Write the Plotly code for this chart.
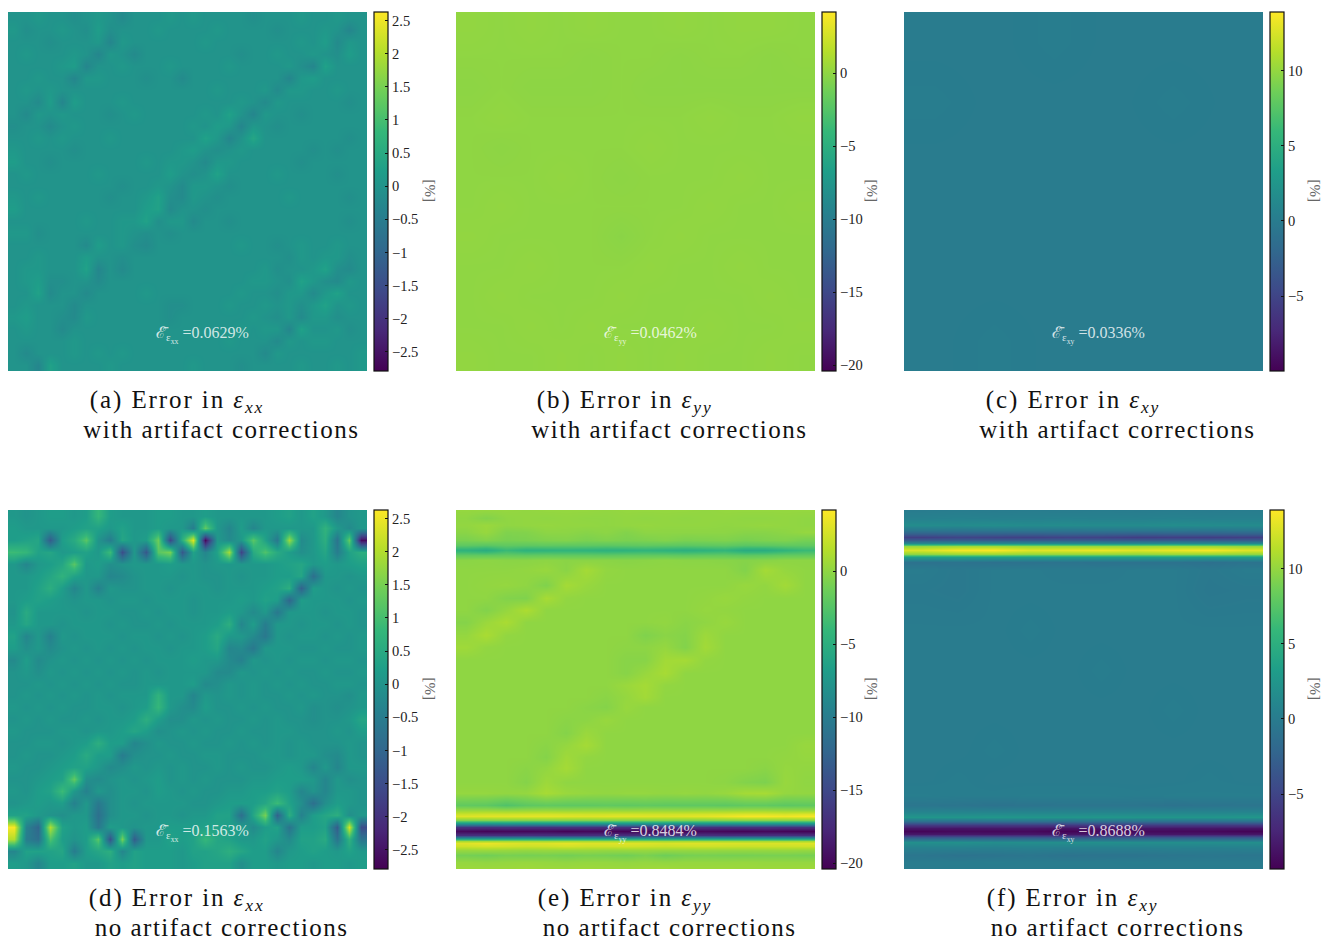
import plotly.graph_objects as go

# ---------- tick labels ----------
XX_TICKS = [2.5, 2, 1.5, 1, 0.5, 0, -0.5, -1, -1.5, -2, -2.5]
XX_LABELS = ["2.5", "2", "1.5", "1", "0.5", "0", "\u22120.5", "\u22121", "\u22121.5", "\u22122", "\u22122.5"]
YY_TICKS = [0, -5, -10, -15, -20]
YY_LABELS = ["0", "\u22125", "\u221210", "\u221215", "\u221220"]
XY_TICKS = [10, 5, 0, -5]
XY_LABELS = ["10", "5", "0", "\u22125"]
XX_RANGE = [-2.79, 2.63]
YY_RANGE = [-20.4, 4.18]
XY_RANGE = [-9.98, 13.9]
MEANS = ["0.0629%", "0.0462%", "0.0336%", "0.1563%", "0.8484%", "0.8688%"]

# ---------- panel (a), tenths of a percent, 30 x 30 ----------
A_TENTHS = [
[0,0,1,0,0,-1,0,1,0,-2,0,0,0,1,0,1,0,0,0,0,-1,0,0,0,1,0,0,1,0,0],
[1,-1,0,0,1,0,-1,2,-1,0,0,0,1,0,0,0,0,1,0,0,0,0,-1,0,0,0,1,0,-3,0],
[0,0,0,-1,0,0,0,1,-3,1,0,0,0,0,0,0,1,0,0,0,0,0,0,0,1,0,2,-2,1,0],
[0,1,0,0,0,1,0,-3,1,0,-2,0,0,0,0,0,0,0,0,-1,0,0,1,0,0,1,0,-1,2,0],
[0,0,0,0,1,2,-3,0,0,1,0,0,0,1,0,0,0,0,1,0,0,0,0,1,-1,-3,3,0,0,0],
[0,0,1,0,0,-3,1,1,0,0,0,-1,0,0,-2,0,0,0,0,0,0,0,0,-3,1,2,0,0,0,0],
[0,1,0,1,0,0,0,0,0,0,0,0,0,0,0,0,0,1,0,0,0,1,-2,1,1,0,0,1,0,0],
[0,0,-2,2,-3,2,0,0,0,1,0,0,0,0,0,0,0,0,0,1,0,-2,1,0,0,0,0,0,-1,0],
[0,-2,1,0,1,0,0,0,-1,0,1,0,0,0,0,0,1,0,3,0,-3,1,0,0,-1,0,0,0,0,0],
[-1,0,0,-2,0,1,0,0,0,0,0,0,0,0,0,1,0,2,1,-3,1,0,-1,0,0,0,0,0,0,0],
[0,0,1,0,1,0,0,0,1,0,0,0,0,0,0,0,3,1,-3,0,4,0,0,0,0,0,0,0,-1,0],
[1,0,0,0,0,-1,0,0,0,0,0,0,0,0,1,2,0,-1,0,1,0,0,0,0,0,-1,0,-1,0,0],
[2,0,0,-1,0,0,0,0,0,0,0,1,0,1,1,0,-2,1,1,0,0,0,0,0,-1,0,0,0,0,0],
[0,1,0,0,0,0,0,1,0,0,0,0,0,2,0,-1,0,3,0,0,0,0,1,0,0,0,0,-1,0,0],
[0,0,0,0,0,0,0,0,0,-1,0,0,1,0,-2,1,1,0,-1,0,0,0,0,0,0,0,0,0,0,0],
[1,0,1,0,0,0,0,0,-1,0,0,1,3,-1,-2,1,0,-1,0,0,0,0,0,1,0,0,0,0,-1,0],
[2,0,0,0,0,0,0,0,0,0,0,2,3,-2,0,0,-1,0,0,0,0,0,0,0,0,0,0,0,0,0],
[0,0,0,0,0,0,1,0,0,1,1,3,-1,1,1,-2,0,0,-1,0,0,0,0,0,0,0,0,0,-1,0],
[1,1,-1,0,0,0,0,0,0,1,0,-1,0,-1,0,0,0,0,0,0,0,0,0,0,0,0,0,0,0,0],
[0,0,0,0,0,0,-2,2,0,1,-1,-2,0,0,0,0,0,0,0,1,0,0,-1,0,1,0,0,1,0,0],
[0,0,1,0,0,0,2,0,0,-1,0,0,0,0,0,0,0,0,0,0,0,0,0,-1,1,0,1,1,-1,0],
[0,1,1,0,0,0,3,-3,0,-2,0,0,0,0,0,0,0,0,0,0,0,1,-1,0,0,1,3,-1,-2,0],
[0,1,2,-1,-1,0,0,-2,0,0,0,0,0,0,0,0,0,0,0,0,1,1,0,-1,3,1,-1,-2,1,0],
[0,0,3,-2,0,0,-2,0,0,0,0,1,0,0,0,0,0,0,0,1,0,0,-1,1,1,-2,1,3,0,0],
[0,1,0,0,0,-2,0,0,0,0,0,0,0,-1,-1,0,0,0,1,0,0,1,0,1,-1,1,3,0,1,0],
[1,2,0,0,-1,-2,1,0,0,0,0,0,0,-1,0,0,0,0,0,0,1,0,-1,1,-2,1,1,-1,0,0],
[0,1,0,0,-2,0,0,0,0,0,0,0,0,0,0,0,0,0,0,1,0,1,1,-3,3,0,0,1,-1,0],
[0,0,0,0,0,1,0,0,0,0,0,0,0,0,0,0,0,0,1,0,0,0,-2,1,0,1,1,0,0,0],
[0,-2,0,0,0,1,0,1,0,1,0,0,0,0,0,0,0,0,0,0,0,-2,1,0,0,0,0,0,0,1],
[0,0,-3,3,0,0,0,0,1,0,0,0,0,0,0,1,0,0,0,-1,0,0,0,0,1,0,0,1,0,1],
]

# ---------- panel (d), tenths of a percent, 30 x 30 ----------
D_TENTHS = [
[1,0,1,2,2,1,2,8,2,1,1,1,2,2,1,1,2,1,1,1,1,1,2,3,1,3,1,-3,0,1],
[2,1,1,1,1,2,3,3,1,3,1,1,2,1,1,-5,13,1,-3,2,-3,1,1,1,1,1,7,1,-2,1],
[2,3,4,-12,2,5,12,0,-5,4,1,2,14,-16,6,24,-27,1,-2,1,12,3,-6,18,-2,1,6,-7,13,-26],
[9,8,3,4,1,2,3,1,9,-15,1,-13,12,15,-13,3,-3,3,19,-17,5,11,5,2,-1,1,4,-5,3,6],
[1,-3,1,2,4,12,1,2,-1,0,1,1,1,2,1,1,0,1,1,1,1,1,2,3,4,1,2,1,2,3],
[1,1,2,4,7,3,1,1,-3,-2,0,1,1,1,0,1,0,0,1,0,1,1,2,2,4,-8,1,1,0,1],
[1,1,3,6,2,-3,1,-4,1,0,0,1,1,0,1,1,1,0,1,1,1,2,3,6,-11,2,1,0,1,0],
[1,2,3,2,1,0,1,1,0,1,1,0,1,1,1,0,1,1,1,2,1,3,2,-10,2,1,1,1,0,1],
[0,5,1,1,1,1,0,1,1,0,0,1,0,1,1,0,1,1,2,1,-2,1,-6,1,1,1,0,1,1,0],
[1,4,1,1,0,1,1,1,0,1,0,0,1,0,1,1,1,2,6,-3,2,-5,1,1,0,1,1,0,1,0],
[3,-3,1,-4,1,0,1,1,1,0,1,1,0,1,0,1,2,5,1,1,-2,-6,1,0,1,1,0,1,0,1],
[2,-1,1,-2,0,1,0,1,0,1,0,1,1,0,1,1,2,4,-3,-2,-6,1,1,1,0,0,1,0,0,1],
[-2,2,-2,0,1,0,1,0,1,0,1,0,1,1,1,2,1,1,-2,-4,1,0,1,0,1,1,0,1,1,0],
[0,1,-1,1,0,1,0,1,0,1,0,1,0,1,1,1,1,-2,-2,1,0,1,0,1,0,0,1,0,0,1],
[0,0,1,0,1,0,1,0,1,0,0,1,1,1,1,2,-2,-1,1,0,1,0,1,0,1,0,0,1,1,0],
[0,1,0,1,0,1,0,1,0,1,1,1,7,1,1,-3,1,0,1,0,1,0,0,1,0,1,0,0,-1,1],
[1,0,1,0,1,0,0,1,1,0,1,2,8,1,-1,-2,2,0,0,1,0,1,0,0,1,-1,0,-1,0,1],
[0,1,0,1,0,0,1,0,1,1,2,6,2,-1,-1,1,0,1,0,0,1,0,1,0,0,-1,0,0,1,4],
[1,0,0,0,1,1,0,1,1,2,4,2,-1,0,1,0,1,0,0,1,0,0,1,1,0,0,0,1,0,2],
[0,0,1,1,0,1,2,6,2,2,-3,-1,1,0,0,1,0,0,1,0,1,0,1,0,1,0,0,0,1,0],
[0,1,0,0,1,2,5,2,2,-5,-1,0,0,1,0,0,1,1,0,0,0,1,1,0,1,1,-1,-2,1,0],
[1,0,0,1,2,3,3,1,-2,-1,1,0,1,0,1,0,0,1,0,1,0,0,1,2,1,-3,1,-3,1,1],
[0,0,1,2,3,13,-1,-2,0,1,0,1,2,0,1,0,1,0,0,0,1,1,2,2,2,1,-3,1,-1,0],
[1,0,2,3,9,1,-4,1,-1,1,1,0,2,1,0,1,0,0,1,1,2,2,3,2,-3,0,-3,1,1,0],
[0,1,2,1,2,-4,1,-6,-1,1,0,1,1,1,1,0,0,1,2,2,2,4,9,3,-1,-8,-1,2,1,0],
[3,3,1,0,-1,1,1,-8,-1,1,1,0,1,1,0,1,1,3,3,-8,4,15,-11,6,-4,2,4,6,-1,1],
[26,-4,-10,20,3,1,2,-6,2,1,0,1,1,2,2,2,3,3,2,2,-2,2,3,-7,2,2,3,-12,23,-15],
[20,-5,-8,11,2,0,2,12,-14,15,-12,1,1,3,2,3,8,4,3,1,1,3,1,-2,3,3,5,-7,7,-7],
[-3,3,3,3,4,-5,2,4,6,-3,3,2,2,2,1,3,3,4,6,4,2,2,-3,1,2,3,2,1,3,1],
[2,1,-3,2,2,3,1,1,3,2,3,2,2,2,1,2,3,3,3,-1,2,2,1,2,2,1,2,2,1,2],
]

# ---------- panel (b), percent, 12 x 12 ----------
B_VALUES = [
[0.1,0.0,0.1,0.0,0.1,0.0,0.0,0.1,0.0,0.1,0.1,0.0],
[0.0,0.0,0.0,0.0,-0.1,0.0,0.0,-0.1,0.0,0.0,-0.1,0.0],
[-0.1,0.0,-0.1,-0.1,-0.1,0.0,-0.1,-0.1,-0.1,-0.1,-0.1,-0.1],
[0.0,0.1,0.0,0.0,0.0,0.0,0.0,0.0,0.1,0.0,0.0,0.1],
[0.0,-0.1,0.0,0.0,0.0,0.0,0.1,0.0,0.0,0.0,0.0,0.0],
[0.0,0.0,0.0,0.1,0.0,-0.1,0.0,0.0,0.0,0.1,0.0,0.0],
[0.0,0.1,0.0,0.0,0.0,0.0,0.0,0.0,0.1,0.0,0.0,0.1],
[0.1,0.0,0.0,0.0,0.0,-0.2,0.0,0.1,0.0,0.0,0.0,0.0],
[0.0,0.0,0.1,0.0,0.0,0.0,0.1,0.0,0.0,0.1,0.0,0.0],
[0.0,0.1,0.0,0.0,0.0,0.1,0.0,0.0,0.0,0.0,0.1,0.0],
[0.0,0.0,0.1,0.0,0.1,0.0,0.0,0.0,0.1,0.0,0.0,0.1],
[0.1,0.0,0.0,0.1,0.0,0.1,0.0,0.1,0.0,0.0,0.1,0.0],
]

# ---------- panel (c), percent, 6 x 6 ----------
C_VALUES = [
[0.0,0.0,0.1,0.0,0.0,0.0],
[0.1,0.0,0.0,0.0,0.1,0.0],
[0.0,0.0,0.0,0.0,0.0,0.0],
[0.0,0.0,0.0,0.0,0.0,0.0],
[0.0,0.0,0.0,0.0,0.0,0.0],
[0.0,0.1,0.0,0.0,0.0,0.0],
]

# ---------- panel (e), percent: rows at E_ROWS, 18 columns ----------
E_ROWS = [0,8,15,22,30,35,40,45,50,60,75,88,100,112,125,137,150,163,175,187,197,210,223,235,247,258,272,283,295,300,304,306,310,314,317,321,325,328,331,333,336,340,345,352,359]
E_VALUES = [
[0.2,0.2,0.2,0.1,0.2,0.2,0.2,0.1,0.2,0.2,0.2,0.2,0.1,0.2,0.2,0.2,0.2,0.2],
[0.0,-0.5,0.0,0.1,0.0,0.1,0.0,0.0,0.1,0.0,0.1,0.0,0.1,0.1,0.0,0.0,0.1,0.0],
[0.1,0.4,0.0,0.1,0.2,0.1,0.1,0.0,0.1,0.2,0.1,0.1,0.1,0.0,0.1,0.2,0.1,0.0],
[-0.2,0.3,-0.6,-0.5,-0.1,-0.1,-0.3,-0.1,-0.5,-0.1,-0.1,-0.1,-0.1,-0.1,-0.3,-0.3,-0.1,0.2],
[-0.8,-0.5,-0.9,-0.8,-0.6,-0.5,-0.8,-0.6,-0.8,-0.7,-0.5,-0.8,-0.7,-0.6,-0.9,-0.7,-0.6,-1.0],
[-2.0,-2.2,-1.9,-2.0,-1.9,-2.0,-2.0,-2.1,-2.0,-1.9,-2.0,-2.1,-2.0,-1.9,-2.2,-2.1,-1.9,-1.9],
[-4.6,-5.2,-3.8,-4.6,-4.5,-4.4,-4.5,-4.7,-4.6,-4.4,-4.6,-4.9,-4.6,-4.3,-5.3,-5.2,-4.4,-3.8],
[-1.9,-1.9,-1.8,-1.9,-1.8,-1.9,-1.9,-2.0,-1.9,-1.9,-1.9,-2.0,-1.9,-1.9,-2.1,-2.0,-1.8,-1.8],
[-0.2,-0.1,-0.2,-0.2,-0.1,-0.2,-0.2,-0.2,-0.3,-0.2,-0.1,-0.2,-0.2,-0.3,-0.4,-0.3,-0.1,-0.1],
[0.0,0.0,0.0,0.1,0.3,-0.2,0.8,0.1,0.0,0.0,0.0,0.0,0.0,0.0,-0.5,0.8,0.2,0.0],
[0.0,0.1,0.2,0.0,-0.6,0.8,0.3,0.0,0.0,0.0,0.0,0.0,0.0,0.0,0.3,0.1,0.7,0.0],
[0.0,0.0,-0.5,-0.6,0.9,0.1,0.0,0.0,0.0,0.0,0.0,0.0,0.1,0.3,0.1,0.0,0.0,0.0],
[0.0,-0.5,0.2,1.1,0.0,0.0,0.0,0.0,0.0,0.0,0.0,0.0,0.2,0.1,0.0,0.0,0.0,0.0],
[-0.4,0.4,1.0,0.0,0.0,0.0,0.0,0.0,0.0,0.0,0.1,-0.2,0.0,0.3,0.0,0.0,0.0,0.0],
[0.2,1.0,0.1,0.0,0.0,0.0,0.0,0.0,0.0,-0.6,-0.2,-0.4,0.5,0.0,0.0,0.0,0.0,0.0],
[0.6,0.1,0.0,0.0,0.0,0.0,0.0,0.0,-0.1,-0.1,0.2,-0.5,0.7,0.0,0.0,0.0,0.0,0.0],
[0.0,0.0,0.0,0.0,0.0,0.0,0.0,0.0,-0.3,-0.3,0.7,0.8,0.1,0.0,0.0,0.0,0.0,0.0],
[0.0,0.0,0.0,0.0,0.0,0.0,0.0,0.0,-0.3,0.3,0.9,0.0,0.0,0.0,0.0,0.0,0.0,0.0],
[0.0,0.0,0.0,0.0,0.0,0.0,0.0,0.0,0.4,0.8,0.1,0.0,0.0,0.0,0.0,0.0,0.0,0.0],
[0.0,0.0,0.0,0.0,0.0,0.0,0.0,-0.2,0.2,0.7,0.0,0.0,0.0,0.0,0.0,0.0,0.0,0.0],
[0.0,0.0,0.0,0.0,0.0,0.0,-0.2,-0.4,0.3,0.0,0.0,0.0,0.0,0.0,0.0,0.0,0.0,0.0],
[0.0,0.0,0.0,0.0,0.0,-0.2,-0.1,0.3,0.0,0.0,0.0,0.0,0.0,0.0,0.0,0.0,0.0,0.0],
[0.0,0.0,0.0,0.0,0.0,-0.4,0.4,0.0,0.0,0.0,0.0,0.0,0.0,0.0,0.0,0.0,0.0,0.0],
[0.0,0.0,0.0,0.0,-0.2,0.2,0.8,0.0,0.0,0.0,0.0,0.0,0.0,0.0,0.0,0.0,0.0,0.3],
[0.0,0.0,0.0,0.0,-0.4,0.6,0.1,0.0,0.0,0.0,0.0,0.0,0.0,0.0,0.0,0.0,0.1,0.2],
[0.0,0.0,0.0,-0.2,0.1,0.8,0.0,0.0,0.0,0.0,0.0,0.0,0.0,0.0,0.0,-0.2,0.2,0.1],
[0.0,0.0,0.0,-0.4,0.5,0.0,0.0,0.0,0.0,0.0,0.0,0.0,0.0,-0.1,-0.5,-0.7,0.3,0.0],
[0.2,0.2,0.1,0.2,0.9,0.4,0.2,0.1,0.2,0.2,0.1,0.2,0.1,0.3,0.8,0.9,0.2,0.1],
[-1.9,-2.0,-2.7,-2.1,-1.9,-2.0,-2.0,-1.9,-2.0,-1.9,-2.0,-2.0,-2.0,-2.1,-1.9,-1.9,-2.1,-2.0],
[0.3,0.3,0.1,0.2,0.3,0.2,0.3,0.3,0.2,0.3,0.3,0.2,0.3,0.3,0.4,0.4,0.3,0.2],
[2.3,2.5,2.5,2.6,2.7,2.6,2.5,2.5,2.6,2.5,2.5,2.6,2.7,2.8,3.0,3.0,2.8,3.1],
[3.0,3.1,3.1,3.2,3.2,3.1,3.0,3.1,3.1,3.1,3.0,3.1,3.2,3.5,3.9,3.9,3.7,3.9],
[-0.5,-0.5,-0.4,-0.5,-0.4,-0.5,-0.5,-0.4,-0.5,-0.5,-0.4,-0.5,-0.5,-0.4,-0.3,-0.3,-0.3,-0.3],
[-9.0,-9.2,-9.0,-9.1,-9.0,-9.0,-9.1,-9.0,-9.0,-9.1,-9.0,-9.1,-9.0,-9.2,-9.1,-9.0,-9.1,-9.0],
[-16.8,-17.0,-16.8,-16.9,-17.0,-16.8,-16.9,-17.0,-16.8,-16.9,-17.0,-16.8,-16.9,-17.0,-16.9,-16.8,-17.0,-16.9],
[-19.8,-20.1,-19.9,-20.0,-19.8,-20.2,-19.9,-20.0,-20.2,-19.9,-20.0,-20.1,-19.8,-20.0,-20.2,-19.9,-20.1,-20.2],
[-17.0,-16.9,-17.1,-16.8,-17.0,-16.9,-17.0,-16.8,-17.1,-16.9,-17.0,-16.8,-17.0,-17.1,-16.9,-17.0,-16.8,-17.1],
[-8.0,-8.1,-8.0,-8.0,-8.1,-8.0,-8.0,-8.1,-8.0,-8.0,-8.1,-8.0,-8.0,-8.1,-8.0,-8.0,-8.1,-8.0],
[1.0,0.9,1.0,1.0,0.9,1.0,1.0,1.0,0.9,1.0,0.9,1.0,1.0,1.0,0.9,1.0,0.9,1.0],
[3.0,3.5,3.1,2.9,3.0,3.3,3.0,3.0,3.1,3.0,2.8,3.0,3.0,2.9,2.9,2.8,2.9,3.0],
[2.4,2.6,2.5,2.3,2.4,2.6,2.4,2.4,2.5,2.4,2.2,2.3,2.4,2.3,2.2,2.3,2.3,2.4],
[0.3,0.4,0.3,0.2,0.3,0.3,0.3,0.2,0.3,0.3,0.2,0.2,0.2,0.2,0.2,0.2,0.3,0.2],
[-1.0,-1.2,-0.9,-1.0,-0.9,-1.1,-0.9,-1.0,-1.2,-0.8,-1.3,-1.0,-0.9,-1.0,-1.0,-0.9,-0.9,-1.0],
[0.2,0.1,0.2,0.3,0.2,0.1,0.2,0.2,0.1,0.2,0.1,0.2,0.2,0.2,0.3,0.2,0.2,0.2],
[0.5,0.5,0.5,0.6,0.5,0.5,0.6,0.5,0.5,0.6,0.7,0.5,0.5,0.6,0.5,0.5,0.5,0.6],
]

# ---------- panel (f), percent: rows at F_ROWS, 10 columns ----------
F_ROWS = [0,8,15,20,24,27,30,33,36,40,44,47,52,60,80,120,160,200,240,270,285,295,301,307,311,315,318,321,324,327,332,338,345,352,359]
F_VALUES = [
[0.0,0.1,0.0,0.1,0.0,0.1,0.0,0.1,0.0,0.1],
[0.5,0.6,0.5,0.5,0.6,0.5,0.5,0.6,0.5,0.5],
[1.6,1.5,1.7,1.5,1.6,1.5,1.5,1.7,1.6,1.5],
[-0.5,-0.6,-0.5,-0.5,-0.6,-0.5,-0.5,-0.5,-0.6,-0.5],
[-3.0,-2.8,-2.9,-3.0,-2.8,-2.9,-3.1,-3.0,-3.0,-2.9],
[-5.4,-5.0,-5.2,-5.3,-5.1,-5.2,-5.6,-5.5,-5.6,-5.4],
[-3.0,-2.9,-3.0,-3.0,-2.9,-3.0,-3.1,-3.0,-3.0,-3.0],
[1.0,1.1,1.0,1.1,1.0,1.0,1.0,1.1,1.0,1.0],
[10.0,10.4,10.5,10.2,10.2,10.1,10.2,10.4,10.3,10.0],
[12.6,13.6,13.8,12.8,13.0,13.3,12.8,13.2,13.7,12.8],
[9.8,10.2,10.3,10.0,10.0,10.0,9.9,10.2,10.1,9.9],
[3.0,3.1,3.1,3.0,3.0,3.0,3.0,3.1,3.0,3.0],
[-1.0,-0.9,-1.1,-1.0,-0.9,-1.0,-1.0,-1.0,-1.2,-0.9],
[0.0,-0.3,0.0,0.0,-0.1,-0.1,0.0,0.0,-0.3,0.0],
[-0.2,-0.3,0.0,0.0,0.0,0.0,0.0,0.0,-0.4,-0.3],
[0.0,0.0,0.0,0.1,0.0,0.0,0.0,0.0,0.0,0.0],
[0.0,0.0,0.0,0.0,0.0,0.1,0.0,0.0,0.0,0.0],
[0.0,0.0,0.0,0.0,0.0,0.0,0.0,0.1,0.0,0.0],
[0.0,0.0,0.1,0.0,0.0,0.0,0.0,0.0,0.0,0.0],
[0.0,0.1,0.0,0.0,0.0,0.0,0.0,0.0,0.1,0.0],
[0.2,0.1,0.1,0.2,0.2,0.2,0.1,0.2,0.2,0.2],
[-0.6,-0.7,-0.9,-0.8,-0.7,-0.7,-0.7,-0.9,-0.8,-0.7],
[0.6,0.6,0.6,0.6,0.6,0.6,0.6,0.6,0.6,0.6],
[2.5,2.5,2.6,2.5,2.5,2.6,2.5,2.5,2.5,2.6],
[-1.0,-1.1,-1.0,-1.0,-1.1,-1.0,-1.0,-1.1,-1.0,-1.0],
[-6.0,-6.0,-6.1,-6.0,-6.1,-6.0,-6.0,-6.0,-6.1,-6.0],
[-8.5,-8.6,-8.5,-8.5,-8.7,-8.5,-8.5,-8.6,-8.5,-8.6],
[-9.7,-9.4,-9.5,-9.4,-9.9,-9.5,-9.4,-9.4,-9.5,-9.8],
[-8.4,-8.4,-8.5,-8.4,-8.6,-8.4,-8.4,-8.5,-8.4,-8.5],
[-3.5,-3.5,-3.4,-3.5,-3.6,-3.5,-3.4,-3.5,-3.5,-3.5],
[1.9,2.0,1.7,1.8,1.8,1.9,1.8,1.8,1.8,1.8],
[0.4,0.4,0.3,0.4,0.3,0.3,0.3,0.4,0.3,0.4],
[-0.6,-0.9,-0.8,-0.6,-0.9,-0.8,-0.8,-0.6,-0.5,-0.6],
[0.0,0.0,0.1,0.0,0.0,0.0,0.1,0.0,0.0,0.0],
[0.0,0.1,0.0,0.0,0.1,0.0,0.0,0.0,0.1,0.0],
]

# ---------- layout constants ----------
W, H = 1331, 940
SIZE = 359
LEFTS = [8, 456, 904]
TOPS = [12, 510]
SERIF = "Liberation Serif, DejaVu Serif, serif"


def centers(n):
    return [(i + 0.5) * SIZE / n for i in range(n)]


def tenths(grid):
    return [[v / 10 for v in row] for row in grid]


PANELS = [
    (tenths(A_TENTHS), centers(30), centers(30), XX_RANGE, XX_TICKS, XX_LABELS, "xx", "a", "with"),
    (B_VALUES, centers(12), centers(12), YY_RANGE, YY_TICKS, YY_LABELS, "yy", "b", "with"),
    (C_VALUES, centers(6), centers(6), XY_RANGE, XY_TICKS, XY_LABELS, "xy", "c", "with"),
    (tenths(D_TENTHS), centers(30), centers(30), XX_RANGE, XX_TICKS, XX_LABELS, "xx", "d", "no"),
    (E_VALUES, centers(18), E_ROWS, YY_RANGE, YY_TICKS, YY_LABELS, "yy", "e", "no"),
    (F_VALUES, centers(10), F_ROWS, XY_RANGE, XY_TICKS, XY_LABELS, "xy", "f", "no"),
]

fig = go.Figure()
notes = []
layout_axes = {}
for i, (z, xs, ys, rng, tv, tt, sub, letter, kind) in enumerate(PANELS):
    col, row = i % 3, i // 3
    left, top = LEFTS[col], TOPS[row]
    suffix = "" if i == 0 else str(i + 1)
    fig.add_trace(go.Heatmap(
        z=z, x=xs, y=ys, zmin=rng[0], zmax=rng[1], zsmooth="best",
        colorscale="Viridis", xaxis="x" + suffix, yaxis="y" + suffix,
        colorbar=dict(
            x=(left + 366) / W, xanchor="left", xref="paper",
            y=1 - (top + SIZE / 2) / H, yanchor="middle", yref="paper",
            lenmode="pixels", len=SIZE, thickness=14, thicknessmode="pixels",
            xpad=0, ypad=0, outlinecolor="#111", outlinewidth=1.2,
            tickmode="array", tickvals=tv, ticktext=tt,
            ticks="inside", ticklen=3, tickcolor="#111", tickwidth=1,
            tickfont=dict(family=SERIF, size=14.5, color="#222"),
        ),
    ))
    layout_axes["xaxis" + suffix] = dict(
        domain=[left / W, (left + SIZE) / W], range=[0, SIZE], visible=False,
        anchor="y" + suffix, fixedrange=True)
    layout_axes["yaxis" + suffix] = dict(
        domain=[1 - (top + SIZE) / H, 1 - top / H], range=[SIZE, 0], visible=False,
        anchor="x" + suffix, fixedrange=True)
    # mean error label, inside the panel
    notes.append(dict(
        xref="paper", yref="paper", x=(left + 194.5) / W, y=1 - (top + 323) / H,
        xanchor="center", yanchor="middle", showarrow=False,
        text=f"\u2130\u0304<sub>\u03b5<sub>{sub}</sub></sub> ={MEANS[i]}",
        font=dict(family=SERIF, size=16, color="rgba(255,255,255,0.8)")))
    # rotated unit label
    notes.append(dict(
        xref="paper", yref="paper",
        x=(left + [421.5, 415.5, 410.5][col]) / W, y=1 - (top + 179) / H,
        xanchor="center", yanchor="middle", showarrow=False, textangle=90,
        text="[%]", font=dict(family=SERIF, size=15, color="#666")))
    # caption
    notes.append(dict(
        xref="paper", yref="paper", x=(left + 169) / W, y=1 - (top + 389) / H,
        xanchor="center", yanchor="middle", showarrow=False, borderpad=0,
        text=f"({letter}) Error in <i>\u03b5<sub>{sub}</sub></i>",
        font=dict(family=SERIF, size=25, color="#111")))
    notes.append(dict(
        xref="paper", yref="paper", x=(left + 213.5) / W, y=1 - (top + 417) / H,
        xanchor="center", yanchor="middle", showarrow=False, borderpad=0,
        text=f"{kind} artifact corrections",
        font=dict(family=SERIF, size=25, color="#111")))

fig.update_layout(
    width=W, height=H, autosize=False, margin=dict(l=0, r=0, t=0, b=0, pad=0),
    paper_bgcolor="white", plot_bgcolor="white", showlegend=False,
    annotations=notes, **layout_axes)

SPACING = """
document.body.style.margin = '0';
document.querySelectorAll('.annotation-text').forEach(function (t) {
  if (t.textContent.indexOf('artifact') >= 0) { t.style.letterSpacing = '1.5px'; }
  if (t.textContent.indexOf('Error') >= 0) { t.style.letterSpacing = '1.9px'; }
});
"""
fig.write_html("out.html", post_script=SPACING, config={"displayModeBar": False})
